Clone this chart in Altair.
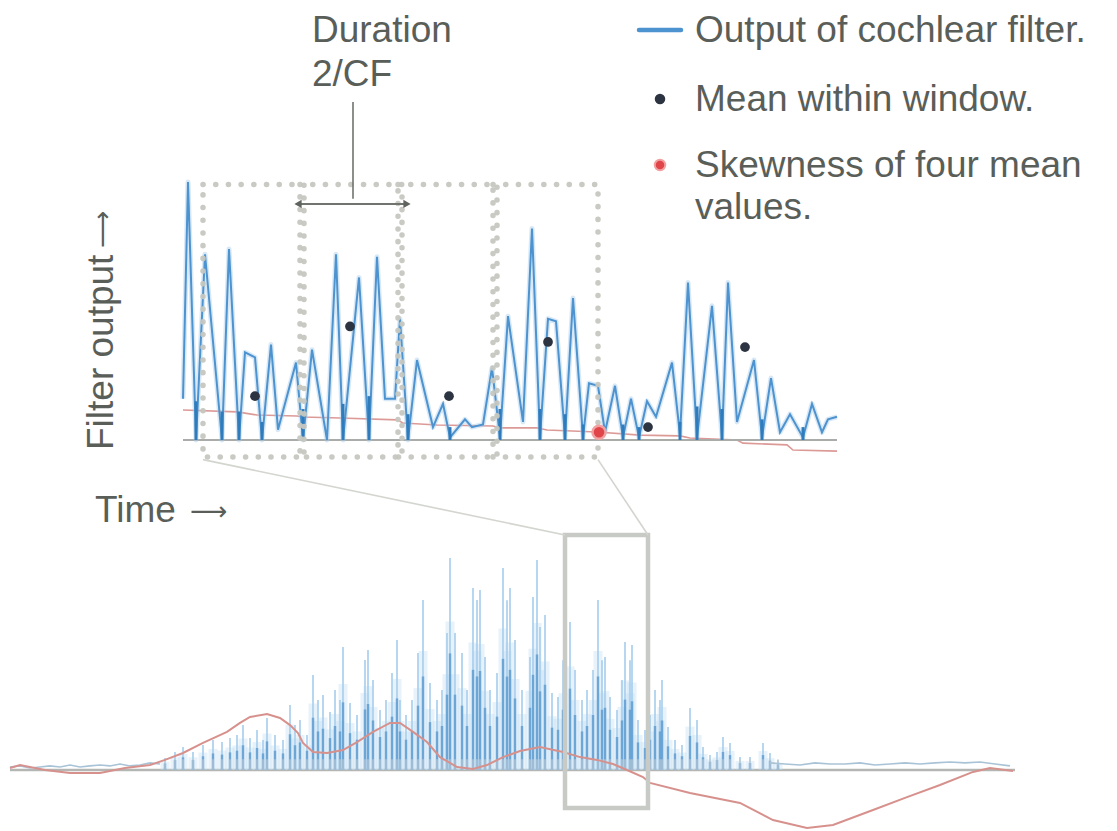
import altair as alt
import pandas as pd

# ---------------- data ----------------
# Top panel: filter output (time in samples, amplitude normalised 0..1)
top_t = [0, 5, 13, 22, 39, 46, 56, 62, 72, 79, 88, 95, 113, 120, 129, 144, 153, 160,
         176, 186, 194, 202, 212, 217, 225, 234, 250, 260, 267, 282, 289, 300, 309,
         317, 325, 340, 349, 357, 365, 373, 382, 390, 400, 406, 415, 422, 432, 440,
         448, 456, 464, 473, 489, 497, 505, 514, 529, 539, 545, 554, 571, 579, 588,
         597, 607, 620, 629, 639, 645, 654]
top_a = [0.16, 1.00, 0.00, 0.72, 0.00, 0.74, 0.00, 0.34, 0.32, 0.00, 0.37, 0.04, 0.30,
         0.00, 0.35, 0.00, 0.72, 0.00, 0.63, 0.00, 0.71, 0.16, 0.16, 0.47, 0.00, 0.31,
         0.05, 0.14, 0.01, 0.08, 0.05, 0.06, 0.28, 0.01, 0.48, 0.07, 0.82, 0.01, 0.47,
         0.46, 0.01, 0.55, 0.01, 0.22, 0.21, 0.03, 0.21, 0.01, 0.16, 0.01, 0.15, 0.09,
         0.30, 0.02, 0.61, 0.01, 0.52, 0.01, 0.61, 0.07, 0.31, 0.01, 0.24, 0.03, 0.10,
         0.01, 0.14, 0.03, 0.08, 0.09]
# dark strokes at the troughs
trough_t = [13, 39, 56, 79, 120, 160, 186, 225, 267, 317, 357, 382, 400, 440, 456,
            497, 514, 539, 579, 620]
trough_h = [0.15, 0.11, 0.11, 0.07, 0.12, 0.14, 0.17, 0.10, 0.05, 0.12, 0.12, 0.10,
            0.06, 0.06, 0.05, 0.07, 0.13, 0.12, 0.08, 0.05]
# skewness trace (pink) in the top panel
skew_t = [0, 54, 74, 114, 120, 157, 214, 220, 254, 310, 317, 354, 364, 414, 457, 497,
          507, 554, 560, 604, 610, 654]
skew_a = [0.116, 0.109, 0.097, 0.093, 0.089, 0.085, 0.078, 0.066, 0.058, 0.054, 0.047,
          0.047, 0.039, 0.031, 0.019, 0.016, 0.008, 0.0, -0.012, -0.019, -0.039, -0.043]
# analysis windows (duration 2/CF each)
win_start = [20, 117, 215, 310]
win_end = [121, 219, 314, 415]
# means within windows
mean_t = [72, 167, 266, 365, 465, 562]
mean_a = [0.17, 0.44, 0.17, 0.38, 0.05, 0.36]
# skewness of four mean values
skewdot_t = [416]
skewdot_a = [0.03]

# Bottom panel: long filter output (spikes), noise floor and skewness trace
spk_t = [155, 165, 173, 183, 193, 203, 212, 220, 227, 233, 240, 247, 253, 257, 265, 273,
         280, 285, 290, 297, 303, 308, 313, 320, 325, 330, 333, 340, 347, 355, 358, 363,
         370, 376, 382, 387, 390, 396, 402, 408, 413, 420, 427, 432, 437, 440, 445, 452,
         457, 463, 467, 470, 475, 480, 487, 493, 497, 500, 505, 512, 520, 523, 527, 530,
         535, 542, 548, 553, 560, 565, 572, 577, 583, 588, 592, 595, 600, 607, 612, 615,
         620, 622, 628, 635, 640, 645, 650, 652, 658, 665, 672, 680, 687, 693, 700, 707,
         713, 720, 730, 740, 753, 760, 768]
spk_a = [0.056, 0.084, 0.107, 0.084, 0.116, 0.14, 0.13, 0.149, 0.163, 0.209, 0.149, 0.186,
         0.14, 0.242, 0.163, 0.14, 0.302, 0.209, 0.233, 0.163, 0.442, 0.326, 0.349, 0.27,
         0.372, 0.326, 0.572, 0.312, 0.256, 0.512, 0.558, 0.419, 0.279, 0.326, 0.451,
         0.605, 0.326, 0.256, 0.326, 0.544, 0.791, 0.405, 0.326, 0.372, 0.637, 0.986,
         0.637, 0.544, 0.372, 0.847, 0.791, 0.837, 0.526, 0.372, 0.451, 0.94, 0.79, 0.847,
         0.605, 0.372, 0.526, 0.805, 0.977, 0.665, 0.721, 0.358, 0.34, 0.51, 0.688, 0.465,
         0.326, 0.372, 0.465, 0.791, 0.51, 0.526, 0.34, 0.279, 0.419, 0.595, 0.51, 0.581,
         0.233, 0.186, 0.256, 0.372, 0.326, 0.419, 0.2, 0.14, 0.116, 0.288, 0.233, 0.107,
         0.07, 0.084, 0.153, 0.126, 0.06, 0.06, 0.126, 0.079, 0.047]
noiseL_t = [0, 10, 20, 30, 40, 50, 60, 70, 80, 90, 100, 110, 120, 130, 140, 150]
noiseL_a = [0.014, 0.019, 0.009, 0.014, 0.019, 0.014, 0.023, 0.014, 0.019, 0.023, 0.019,
            0.028, 0.019, 0.023, 0.033, 0.028]
noiseR_t = [760, 775, 790, 805, 820, 835, 850, 865, 880, 895, 910, 925, 940, 955, 970, 985, 1000]
noiseR_a = [0.033, 0.028, 0.023, 0.033, 0.028, 0.028, 0.033, 0.023, 0.028, 0.033, 0.028,
            0.033, 0.037, 0.033, 0.037, 0.028, 0.019]
bred_t = [0, 10, 35, 60, 90, 115, 140, 155, 173, 193, 217, 230, 240, 257, 270, 280, 288,
          293, 303, 317, 333, 347, 363, 380, 390, 403, 417, 430, 447, 463, 477, 493, 510,
          530, 553, 570, 587, 603, 617, 633, 640, 680, 730, 763, 797, 823, 863, 897, 930,
          963, 980, 1003]
bred_a = [0.009, 0.023, 0.0, -0.014, -0.014, 0.009, 0.023, 0.047, 0.079, 0.126, 0.177,
          0.219, 0.247, 0.26, 0.242, 0.209, 0.172, 0.126, 0.084, 0.079, 0.093, 0.13, 0.177,
          0.219, 0.219, 0.177, 0.13, 0.06, 0.014, 0.005, 0.023, 0.06, 0.088, 0.107, 0.084,
          0.06, 0.047, 0.028, 0.0, -0.033, -0.06, -0.107, -0.153, -0.233, -0.27, -0.256,
          -0.186, -0.126, -0.07, -0.009, 0.009, -0.005]
# zoom box on the long signal (covers the four windows)
box_t = [555, 638]
box_a = [-0.177, 1.093]

legend_labels = ["Output of cochlear filter.", "Mean within window.",
                 "Skewness of four mean", "values."]

# ---------------- layout ----------------
W, H = 1117, 831
TOP_X0, TOP_BASE, TOP_PX = 183, 440, 258      # px of t=0, px of a=0, px per unit amplitude
BOT_X0, BOT_BASE, BOT_PX = 10, 770, 215
WIN_TOP, WIN_BOT = 0.99, -0.066

TOP_XD = [-TOP_X0, W - TOP_X0]
TOP_YD = [-(H - TOP_BASE) / TOP_PX, TOP_BASE / TOP_PX]
BOT_XD = [-BOT_X0, W - BOT_X0]
BOT_YD = [-(H - BOT_BASE) / BOT_PX, BOT_BASE / BOT_PX]


def sc(d):
    return alt.Scale(domain=d, nice=False, zero=False)


def TX(f):
    return alt.X(f, type="quantitative", scale=sc(TOP_XD), axis=None)


def TY(f):
    return alt.Y(f, type="quantitative", scale=sc(TOP_YD), axis=None)


def BX(f):
    return alt.X(f, type="quantitative", scale=sc(BOT_XD), axis=None)


def BY(f):
    return alt.Y(f, type="quantitative", scale=sc(BOT_YD), axis=None)


def top_to_bot_t(t):
    return t + TOP_X0 - BOT_X0


def top_to_bot_a(a):
    return (BOT_BASE - (TOP_BASE - a * TOP_PX)) / BOT_PX


TXT = "#5a5e59"
FONT = "Liberation Sans"
BLUE = "#4d93cf"

# ---------------- top panel ----------------
top_df = pd.DataFrame({"t": top_t, "a": top_a})
tr_df = pd.DataFrame({"t": trough_t, "h": trough_h, "z": 0.0})
sk_df = pd.DataFrame({"t": skew_t, "a": skew_a})
win_df = pd.DataFrame({"s": win_start, "e": win_end, "top": WIN_TOP, "bot": WIN_BOT})
mean_df = pd.DataFrame({"t": mean_t, "a": mean_a})
sd_df = pd.DataFrame({"t": skewdot_t, "a": skewdot_a})
base_df = pd.DataFrame({"t": [top_t[0]], "t1": [top_t[-1]], "a": [0.0]})

arrow_df = pd.DataFrame({"t": [win_start[1] - 2], "t1": [win_end[1] + 5], "a": [0.915]})
arrow_tips = pd.DataFrame({"t": [win_start[1] - 2, win_end[1] + 5], "a": [0.915, 0.915],
                           "shape": ["triangle-left", "triangle-right"]})
stem_df = pd.DataFrame({"t": [170], "a": [1.31], "a1": [0.935]})

t_base = alt.Chart(base_df).mark_rule(color="#a9aca8", strokeWidth=2).encode(
    x=TX("t"), x2="t1", y=TY("a"))
t_skew = alt.Chart(sk_df).mark_line(color="#dc9a97", strokeWidth=1.6).encode(
    x=TX("t"), y=TY("a"))
t_glow = alt.Chart(top_df).mark_line(color="#a9cdec", strokeWidth=5, opacity=0.45,
                                     strokeJoin="round").encode(x=TX("t"), y=TY("a"))
t_line = alt.Chart(top_df).mark_line(color=BLUE, strokeWidth=2, strokeJoin="miter").encode(
    x=TX("t"), y=TY("a"))
t_tr = alt.Chart(tr_df).mark_rule(color="#2f7bbb", strokeWidth=3).encode(
    x=TX("t"), y=TY("z"), y2="h")
t_win = alt.Chart(win_df).mark_rect(
    fillOpacity=0, stroke="#c6c8c0", strokeWidth=5.5, strokeDash=[0.1, 12.6],
    strokeCap="round", opacity=0.95).encode(
    x=TX("s"), x2="e", y=TY("top"), y2="bot")
t_mean = alt.Chart(mean_df).mark_point(filled=True, color="#2d3441", size=95, opacity=1).encode(
    x=TX("t"), y=TY("a"))
t_sd = alt.Chart(sd_df).mark_point(filled=True, color="#e0454a", size=170, opacity=1,
                                   stroke="#f2a0a0", strokeWidth=2.5).encode(
    x=TX("t"), y=TY("a"))
t_arrow = alt.Chart(arrow_df).mark_rule(color="#6f746e", strokeWidth=2).encode(
    x=TX("t"), x2="t1", y=TY("a"))
t_tips = alt.Chart(arrow_tips).mark_point(filled=True, color="#5f645e", size=70, opacity=1).encode(
    x=TX("t"), y=TY("a"), shape=alt.Shape("shape:N", scale=None))
t_stem = alt.Chart(stem_df).mark_rule(color="#6f746e", strokeWidth=1.6).encode(
    x=TX("t"), y=TY("a"), y2="a1")

top = alt.layer(t_skew, t_base, t_glow, t_line, t_tr, t_win, t_mean, t_sd, t_arrow, t_tips, t_stem)

# ---------------- bottom panel ----------------
spk_df = pd.DataFrame({"t": spk_t, "a": spk_a, "z": 0.0})
nL_df = pd.DataFrame({"t": noiseL_t, "a": noiseL_a})
nR_df = pd.DataFrame({"t": noiseR_t, "a": noiseR_a})
br_df = pd.DataFrame({"t": bred_t, "a": bred_a})
bbase_df = pd.DataFrame({"t": [bred_t[0]], "t1": [bred_t[-1] + 2], "a": [0.0]})
box_df = pd.DataFrame({"s": [box_t[0]], "e": [box_t[1]], "lo": [box_a[0]], "hi": [box_a[1]]})
conn_df = pd.DataFrame({
    "t": [top_to_bot_t(win_start[0]), top_to_bot_t(win_end[-1])],
    "a": [top_to_bot_a(WIN_BOT - 0.01), top_to_bot_a(WIN_BOT - 0.01)],
    "t1": [box_t[0], box_t[1]],
    "a1": [box_a[1], box_a[1]],
})

b_base = alt.Chart(bbase_df).mark_rule(color="#b3b6b2", strokeWidth=2.5).encode(
    x=BX("t"), x2="t1", y=BY("a"))
b_haze = alt.Chart(spk_df).transform_calculate(h="datum.a * 0.7").mark_rule(
    color="#c4def3", strokeWidth=9, opacity=0.4).encode(
    x=BX("t"), y=BY("z"), y2="h:Q")
b_spk = alt.Chart(spk_df).mark_rule(color="#a6cdec", strokeWidth=1.8, opacity=0.9).encode(
    x=BX("t"), y=BY("z"), y2="a")
b_inner = alt.Chart(spk_df).transform_calculate(inner="datum.a * 0.55").mark_rule(
    color="#5597cf", strokeWidth=2.5, opacity=0.75).encode(
    x=BX("t"), y=BY("z"), y2="inner:Q")
b_comb = alt.Chart(spk_df).transform_calculate(comb="0.05").mark_rule(
    color="#c2cbd2", strokeWidth=1.2).encode(
    x=BX("t"), y=BY("z"), y2="comb:Q")
b_nL = alt.Chart(nL_df).mark_line(color="#a9c3d6", strokeWidth=1.6).encode(x=BX("t"), y=BY("a"))
b_nR = alt.Chart(nR_df).mark_line(color="#a9c3d6", strokeWidth=1.6).encode(x=BX("t"), y=BY("a"))
b_red = alt.Chart(br_df).mark_line(color="#d7918d", strokeWidth=2).encode(x=BX("t"), y=BY("a"))
b_box = alt.Chart(box_df).mark_rect(fillOpacity=0, stroke="#c8cac5", strokeWidth=4.5).encode(
    x=BX("s"), x2="e", y=BY("lo"), y2="hi")
b_conn = alt.Chart(conn_df).mark_rule(color="#d3d5cf", strokeWidth=1.6).encode(
    x=BX("t"), y=BY("a"), x2="t1", y2="a1")

bottom = alt.layer(b_base, b_haze, b_spk, b_inner, b_comb, b_nL, b_nR, b_red, b_box, b_conn)

# ---------------- annotations ----------------
ann_df = pd.DataFrame({"k": [0]})


def label(text, x, y, angle=0, size=37, font=FONT):
    return alt.Chart(ann_df).mark_text(
        text=text, font=font, fontSize=size, color=TXT, align="left",
        baseline="alphabetic", angle=angle).encode(x=alt.value(x), y=alt.value(y))


annots = [
    label("Duration", 312, 42),
    label("2/CF", 312, 86),
    label(legend_labels[0], 695, 42),
    label(legend_labels[1], 695, 111),
    label(legend_labels[2], 695, 177),
    label(legend_labels[3], 695, 219),
    label("Time", 95, 522),
    label("\u27f6", 190, 520, size=26, font="DejaVu Sans"),
    label("Filter output", 113, 450, angle=270),
    label("\u27f6", 111, 248, angle=270, size=26, font="DejaVu Sans"),
    alt.Chart(ann_df).mark_rule(color=BLUE, strokeWidth=4.5, strokeCap="round").encode(
        x=alt.value(639), x2=alt.value(681), y=alt.value(30)),
    alt.Chart(ann_df).mark_point(filled=True, color="#2d3441", size=110, opacity=1).encode(
        x=alt.value(660), y=alt.value(99)),
    alt.Chart(ann_df).mark_point(filled=True, color="#e0454a", size=110, opacity=1,
                                 stroke="#f2a0a0", strokeWidth=2).encode(
        x=alt.value(660), y=alt.value(165)),
]

chart = alt.layer(top, bottom, *annots).resolve_scale(
    x="independent", y="independent"
).properties(
    width=W, height=H, padding=0, autosize=alt.AutoSizeParams(type="none"),
    background="white",
).configure_view(stroke=None)

chart.save("out.html", embed_options={"renderer": "svg", "actions": False})
